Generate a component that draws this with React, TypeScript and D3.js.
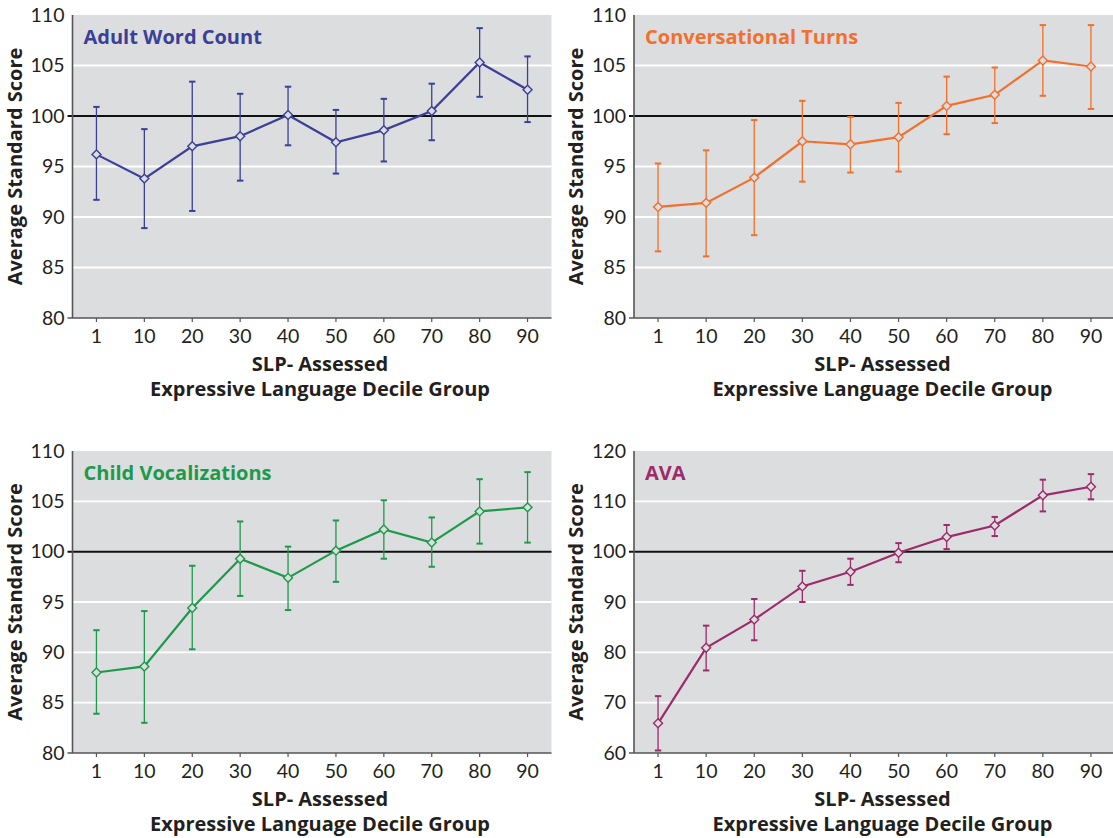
import React from "react";
import * as d3 from "d3";

const categories = ["1", "10", "20", "30", "40", "50", "60", "70", "80", "90"];

const awcMean = [96.2, 93.8, 97.0, 98.0, 100.1, 97.4, 98.6, 100.5, 105.3, 102.6];
const awcLow = [91.7, 88.9, 90.6, 93.6, 97.1, 94.3, 95.5, 97.6, 101.9, 99.4];
const awcHigh = [100.9, 98.7, 103.4, 102.2, 102.9, 100.6, 101.7, 103.2, 108.7, 105.9];

const ctMean = [91.0, 91.4, 93.9, 97.5, 97.2, 97.9, 101.0, 102.1, 105.5, 104.9];
const ctLow = [86.6, 86.1, 88.2, 93.5, 94.4, 94.5, 98.2, 99.3, 102.0, 100.7];
const ctHigh = [95.3, 96.6, 99.6, 101.5, 99.9, 101.3, 103.9, 104.8, 109.0, 109.0];

const cvMean = [88.0, 88.6, 94.4, 99.3, 97.4, 100.1, 102.2, 100.9, 104.0, 104.4];
const cvLow = [83.9, 83.0, 90.3, 95.6, 94.2, 97.0, 99.3, 98.5, 100.8, 100.9];
const cvHigh = [92.2, 94.1, 98.6, 103.0, 100.5, 103.1, 105.1, 103.4, 107.2, 107.9];

const avaMean = [65.9, 80.9, 86.5, 93.1, 96.0, 99.8, 102.9, 105.2, 111.2, 112.9];
const avaLow = [60.5, 76.4, 82.4, 90.0, 93.4, 97.9, 100.5, 103.1, 108.0, 110.4];
const avaHigh = [71.3, 85.3, 90.6, 96.2, 98.6, 101.7, 105.3, 106.9, 114.3, 115.4];

const ticks80 = [80, 85, 90, 95, 100, 105, 110];
const ticks60 = [60, 70, 80, 90, 100, 110, 120];

const yTitle = "Average Standard Score";
const xTitle1 = "SLP- Assessed";
const xTitle2 = "Expressive Language Decile Group";

const FONT = "Lato, 'Open Sans', sans-serif";
const BOLD = "'Open Sans', Lato, sans-serif";
const BG = "#dcdddf";
const TEXT = "#231f20";

type PanelProps = {
  left: number;
  top: number;
  width: number;
  height: number;
  title: string;
  color: string;
  mean: number[];
  low: number[];
  high: number[];
  ticks: number[];
};

function Panel({ left, top, width, height, title, color, mean, low, high, ticks }: PanelProps) {
  const x = d3.scaleBand<string>().domain(categories).range([0, width]).padding(0);
  const y = d3
    .scaleLinear()
    .domain([ticks[0], ticks[ticks.length - 1]])
    .range([height, 0]);
  const cx = (c: string) => (x(c) ?? 0) + x.bandwidth() / 2;
  const line = d3
    .line<number>()
    .x((_, i) => cx(categories[i]))
    .y((d) => y(d));
  const diamond = d3.symbol().type(d3.symbolSquare).size(40)() as string;
  const cap = 3.2;
  return (
    <g transform={`translate(${left},${top})`}>
      <rect x={0} y={0} width={width} height={height} fill={BG} />
      {ticks
        .filter((t) => t !== 100 && t !== ticks[0] && t !== ticks[ticks.length - 1])
        .map((t) => (
          <line key={t} x1={0} x2={width} y1={y(t)} y2={y(t)} stroke="#ffffff" strokeWidth={1.8} />
        ))}
      <line x1={-5} x2={width} y1={y(100)} y2={y(100)} stroke="#111" strokeWidth={2} />
      <line x1={0} x2={0} y1={0} y2={height} stroke="#555" strokeWidth={1.6} />
      <line x1={-5} x2={width} y1={height} y2={height} stroke="#555" strokeWidth={1.6} />
      {categories.map((c) => (
        <line key={c} x1={cx(c)} x2={cx(c)} y1={height} y2={height + 4} stroke="#555" strokeWidth={1.2} />
      ))}
      {ticks.map((t) => (
        <text
          key={t}
          x={-8}
          y={y(t)}
          dy="0.35em"
          textAnchor="end"
          fontFamily={FONT}
          fontSize={19.5}
          fill={TEXT}
        >
          {t}
        </text>
      ))}
      {categories.map((c) => (
        <text
          key={c}
          x={cx(c)}
          y={height + 25}
          textAnchor="middle"
          fontFamily={FONT}
          fontSize={19.5}
          fill={TEXT}
        >
          {c}
        </text>
      ))}
      <text
        x={width / 2 + 8}
        y={height + 53}
        textAnchor="middle"
        fontFamily={BOLD}
        fontSize={20}
        fontWeight={700}
        fill={TEXT}
      >
        {xTitle1}
      </text>
      <text
        x={width / 2 + 8}
        y={height + 78}
        textAnchor="middle"
        fontFamily={BOLD}
        fontSize={20}
        fontWeight={700}
        fill={TEXT}
      >
        {xTitle2}
      </text>
      <text
        transform={`translate(${-51},${height / 2}) rotate(-90)`}
        textAnchor="middle"
        fontFamily={BOLD}
        fontSize={20}
        fontWeight={700}
        fill={TEXT}
      >
        {yTitle}
      </text>
      <text x={11} y={29} fontFamily={BOLD} fontSize={20} fontWeight={700} fill={color}>
        {title}
      </text>
      {categories.map((c, i) => (
        <g key={c} stroke={color} strokeWidth={1.3}>
          <line x1={cx(c)} x2={cx(c)} y1={y(low[i])} y2={y(high[i])} />
          <line x1={cx(c) - cap} x2={cx(c) + cap} y1={y(low[i])} y2={y(low[i])} strokeWidth={2} />
          <line x1={cx(c) - cap} x2={cx(c) + cap} y1={y(high[i])} y2={y(high[i])} strokeWidth={2} />
        </g>
      ))}
      <path d={line(mean) ?? ""} fill="none" stroke={color} strokeWidth={2.2} />
      {categories.map((c, i) => (
        <path
          key={c}
          d={diamond}
          transform={`translate(${cx(c)},${y(mean[i])}) rotate(45)`}
          fill={BG}
          stroke={color}
          strokeWidth={1.4}
        />
      ))}
    </g>
  );
}

export default function App() {
  return (
    <svg
      width={1113}
      height={838}
      style={{ position: "absolute", left: 0, top: 0, background: "#ffffff" }}
    >
      <Panel
        left={72.5}
        top={15}
        width={479}
        height={303}
        title="Adult Word Count"
        color="#3b3f98"
        mean={awcMean}
        low={awcLow}
        high={awcHigh}
        ticks={ticks80}
      />
      <Panel
        left={634}
        top={15}
        width={481}
        height={303}
        title="Conversational Turns"
        color="#f36f2c"
        mean={ctMean}
        low={ctLow}
        high={ctHigh}
        ticks={ticks80}
      />
      <Panel
        left={72.5}
        top={451}
        width={479}
        height={302}
        title="Child Vocalizations"
        color="#1c9a4a"
        mean={cvMean}
        low={cvLow}
        high={cvHigh}
        ticks={ticks80}
      />
      <Panel
        left={634}
        top={451}
        width={481}
        height={302}
        title="AVA"
        color="#9c2b6a"
        mean={avaMean}
        low={avaLow}
        high={avaHigh}
        ticks={ticks60}
      />
    </svg>
  );
}
